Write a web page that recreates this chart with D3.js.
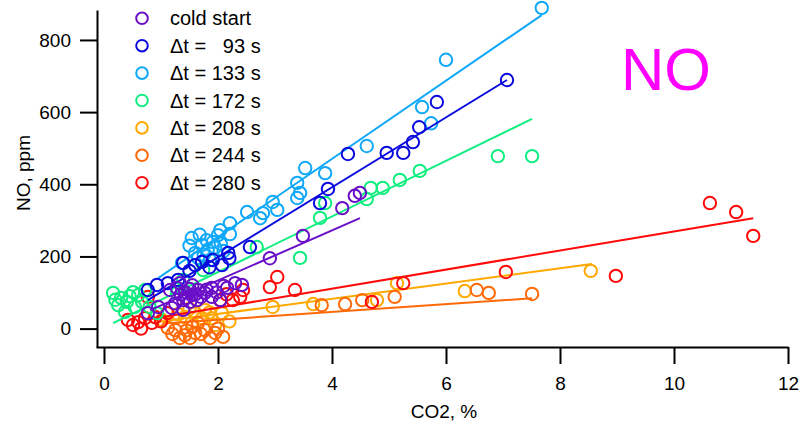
<!DOCTYPE html>
<html>
<head>
<meta charset="utf-8">
<script src="https://cdn.jsdelivr.net/npm/d3@7"></script>
<style>
  html, body { margin: 0; padding: 0; background: #fff; }
  svg text { font-family: "Liberation Sans", Arial, sans-serif; }
</style>
</head>
<body>
<svg id="chart" width="802" height="426"></svg>
<script>
// ---- data (CO2 %, NO ppm) ----
const seriesNames = ["cold start", "\u0394t =   93 s", "\u0394t = 133 s", "\u0394t = 172 s", "\u0394t = 208 s", "\u0394t = 244 s", "\u0394t = 280 s"];
const seriesColors = ["#6a0fc8", "#0a0ade", "#10a8f8", "#10ee80", "#ffa800", "#ff6a08", "#ff0a0a"];

const coldStart = [[0.77,43],[1.19,57],[1.28,113],[1.33,126],[1.39,79],[1.39,52],[1.42,101],[1.51,74],[1.54,93],[1.63,79],[1.65,107],[1.77,99],[1.89,113],[1.89,88],[2.16,113],[2.30,126],[2.42,121],[1.16,107],[2.04,79],[1.45,85],[1.50,110],[1.60,95],[1.70,88],[1.80,108],[1.35,95],[1.55,120],[1.98,100],[2.10,118],[1.25,70],[0.95,60],[2.91,195],[3.49,257],[4.18,334],[4.40,368],[4.49,376]];
const dt93 = [[0.77,107],[0.93,121],[1.12,126],[1.30,135],[1.39,182],[1.50,160],[1.60,176],[1.72,185],[1.85,170],[1.91,190],[2.07,176],[2.20,195],[2.18,210],[2.56,226],[3.79,348],[3.93,387],[4.28,484],[4.96,487],[5.25,487],[5.42,517],[5.53,558],[5.84,628],[7.07,689]];
const dt133 = [[1.37,182],[1.50,230],[1.54,251],[1.60,210],[1.65,196],[1.68,260],[1.72,232],[1.75,205],[1.80,245],[1.82,218],[1.86,190],[1.91,240],[1.95,225],[2.00,259],[2.05,235],[2.10,215],[2.21,262],[2.04,273],[2.21,292],[2.51,323],[2.74,306],[2.79,320],[2.96,351],[3.04,329],[3.39,404],[3.39,362],[3.44,376],[3.53,445],[3.88,431],[4.61,506],[5.58,614],[5.74,569],[6.00,745],[7.68,889]];
const dt172 = [[0.16,99],[0.20,80],[0.25,65],[0.30,85],[0.37,46],[0.40,74],[0.45,90],[0.51,101],[0.54,60],[0.60,93],[0.67,74],[0.72,107],[0.80,60],[0.93,43],[1.28,99],[1.39,135],[1.74,162],[2.68,226],[3.44,196],[3.79,307],[3.88,348],[4.61,359],[4.68,390],[4.89,390],[5.19,412],[5.54,437],[6.91,478],[7.51,478]];
const dt208 = [[1.02,24],[1.25,29],[1.30,40],[1.42,32],[1.50,55],[1.60,43],[1.77,52],[1.72,29],[1.54,16],[1.85,45],[1.89,29],[2.07,43],[1.95,10],[2.20,20],[2.96,60],[3.67,68],[4.79,79],[5.14,126],[6.33,104],[8.54,160]];
const dt244 = [[1.12,2],[1.20,-15],[1.25,-4],[1.33,-26],[1.42,-18],[1.45,-5],[1.51,-26],[1.55,5],[1.60,-12],[1.65,16],[1.70,-15],[1.77,-4],[1.86,-26],[1.95,-12],[2.00,0],[2.09,-23],[3.82,65],[4.23,68],[4.53,79],[5.10,88],[6.54,107],[6.75,99],[7.51,96]];
const dt280 = [[0.42,24],[0.51,10],[0.60,18],[0.65,0],[0.72,29],[0.84,16],[0.90,32],[0.77,88],[1.00,20],[1.11,43],[2.04,79],[2.15,95],[2.26,79],[2.39,88],[2.44,107],[2.91,115],[3.04,143],[3.35,107],[4.70,74],[5.25,126],[7.05,157],[8.98,146],[10.63,348],[11.09,323],[11.39,257]];

// linear fit segments [[x0,y0],[x1,y1]] per series
const fitLines = [
  [[0.81,51],[4.49,306]],
  [[0.77,79],[7.07,689]],
  [[0.95,140],[7.68,869]],
  [[0.16,15],[7.51,581]],
  [[0.93,18],[8.56,179]],
  [[1.04,14],[7.51,84]],
  [[0.72,24],[11.39,306]]
];

const xTicks = [0, 2, 4, 6, 8, 10, 12];
const yTicks = [0, 200, 400, 600, 800];
const xTitle = "CO2, %";
const yTitle = "NO, ppm";
const chartLabel = "NO";

const allSeries = [coldStart, dt93, dt133, dt172, dt208, dt244, dt280];

// ---- drawing ----
const svg = d3.select("#chart");
const x = d3.scaleLinear().domain([-0.14, 12]).range([96, 788]);
const y = d3.scaleLinear().domain([-51, 883]).range([347, 10]);

const xAxis = svg.append("g").attr("transform", "translate(0,347)")
  .call(d3.axisBottom(x).tickValues(xTicks).tickSize(17).tickSizeOuter(0).tickPadding(13).tickFormat(d3.format("d")));
const yAxis = svg.append("g").attr("transform", "translate(97,0)")
  .call(d3.axisLeft(y).tickValues(yTicks).tickSize(17).tickSizeOuter(0).tickPadding(9).tickFormat(d3.format("d")));

[xAxis, yAxis].forEach(g => {
  g.select(".domain").attr("stroke", "#000").attr("stroke-width", 2);
  g.selectAll(".tick line").attr("stroke", "#000").attr("stroke-width", 2);
  g.selectAll(".tick text").attr("fill", "#000").style("font-size", "19px").style("font-family", "'Liberation Sans', Arial, sans-serif");
});

svg.append("text").attr("x", 444).attr("y", 418).attr("text-anchor", "middle")
  .style("font-size", "19px").text(xTitle);
svg.append("text").attr("transform", "translate(30,173) rotate(-90)").attr("text-anchor", "middle")
  .style("font-size", "19px").text(yTitle);

const order = [4, 5, 6, 3, 2, 1, 0];
const line = d3.line().x(d => x(d[0])).y(d => y(d[1]));
order.forEach(i => {
  const g = svg.append("g");
  g.append("path").attr("d", line(fitLines[i])).attr("fill", "none")
    .attr("stroke", seriesColors[i]).attr("stroke-width", 2);
  g.selectAll("circle").data(allSeries[i]).enter().append("circle")
    .attr("cx", d => x(d[0])).attr("cy", d => y(d[1])).attr("r", 6.2)
    .attr("fill", "none").attr("stroke", seriesColors[i]).attr("stroke-width", 2);
});

// legend
const leg = svg.append("g");
seriesNames.forEach((name, i) => {
  const cy = 18.3 + i * 27.4;
  leg.append("circle").attr("cx", 142).attr("cy", cy).attr("r", 5.8)
    .attr("fill", "none").attr("stroke", seriesColors[i]).attr("stroke-width", 2);
  leg.append("text").attr("x", 170).attr("y", cy + 7).style("font-size", "20px")
    .attr("xml:space", "preserve").style("white-space", "pre").text(name);
});

svg.append("text").attr("x", 621).attr("y", 90).style("font-size", "60px")
  .attr("fill", "#ff00ff").text(chartLabel);
</script>
</body>
</html>
